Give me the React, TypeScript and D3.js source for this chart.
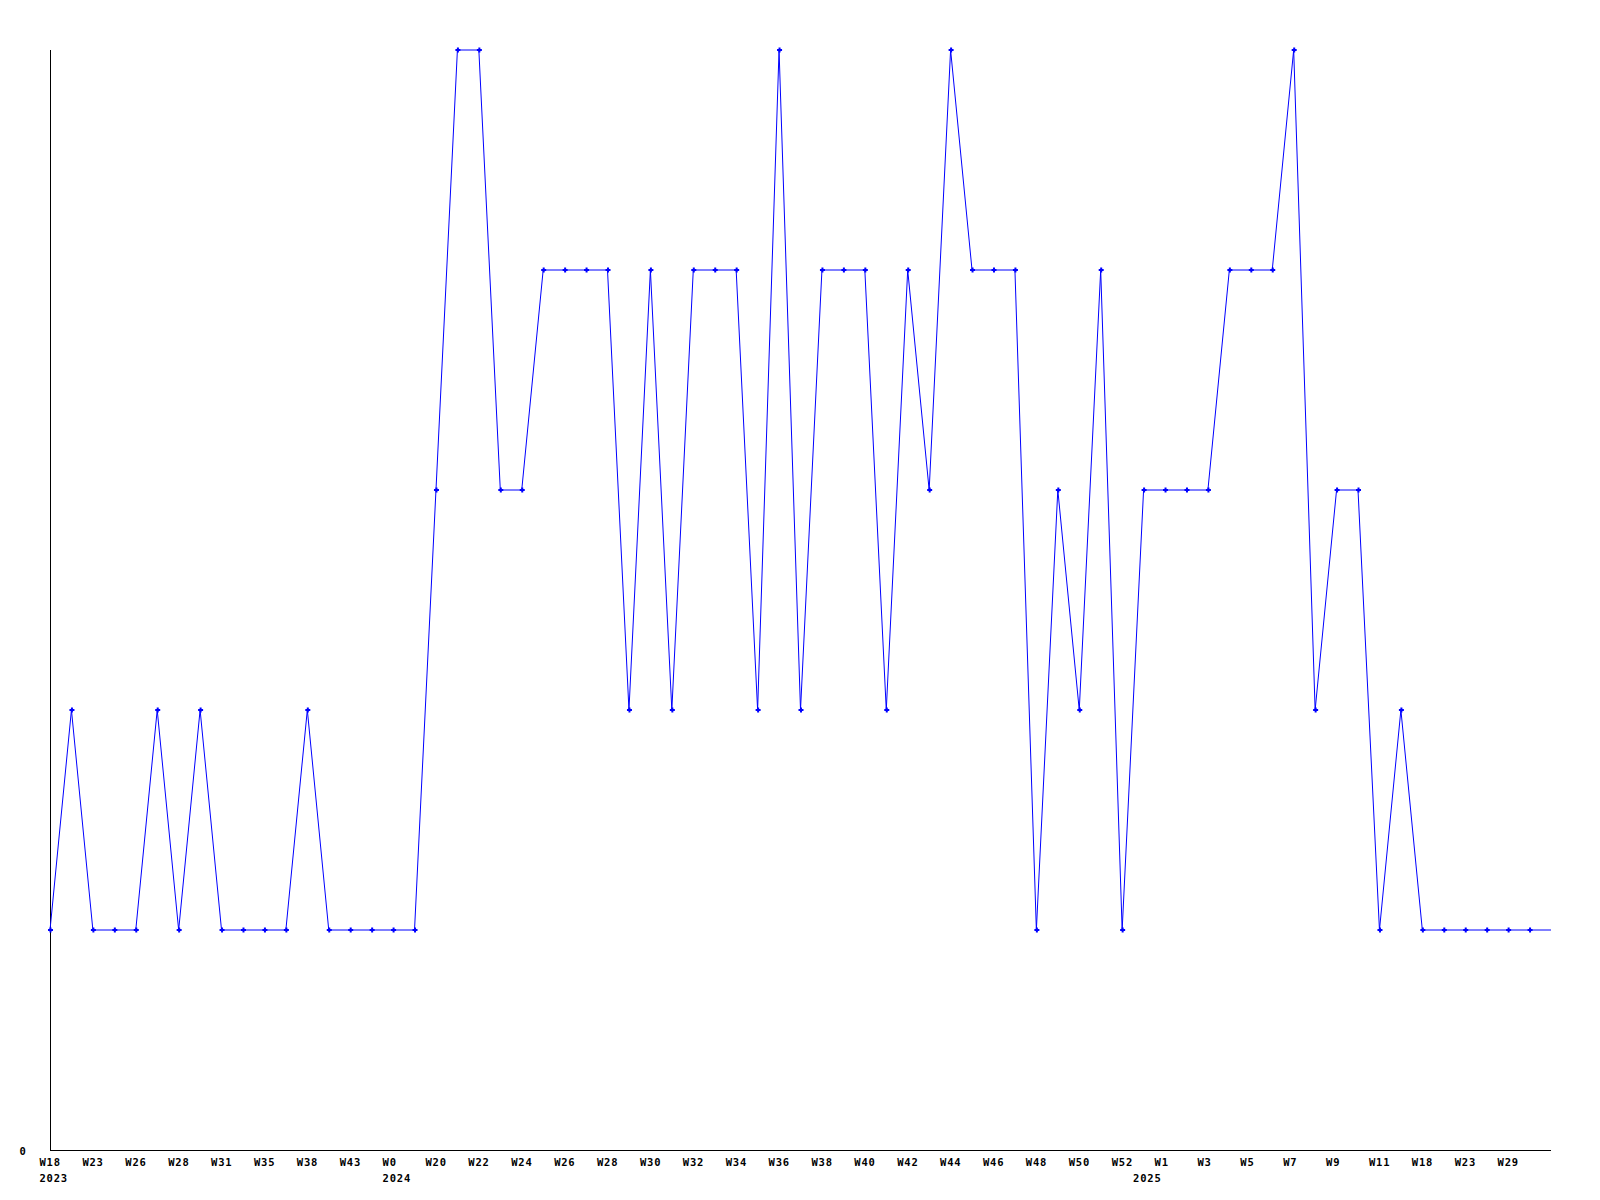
import React from "react";
import * as d3 from "d3";

const values: number[] = [
  1, 2, 1, 1, 1, 2, 1, 2, 1, 1, 1, 1, 2, 1, 1, 1, 1, 1, 3, 5,
  5, 3, 3, 4, 4, 4, 4, 2, 4, 2, 4, 4, 4, 2, 5, 2, 4, 4, 4, 2,
  4, 3, 5, 4, 4, 4, 1, 3, 2, 4, 1, 3, 3, 3, 3, 4, 4, 4, 5, 2,
  3, 3, 1, 2, 1, 1, 1, 1, 1, 1, 1,
];

// labels shown at every second point
const tickLabels: string[] = [
  "W18", "W23", "W26", "W28", "W31", "W35", "W38", "W43", "W0", "W20",
  "W22", "W24", "W26", "W28", "W30", "W32", "W34", "W36", "W38", "W40",
  "W42", "W44", "W46", "W48", "W50", "W52", "W1", "W3", "W5", "W7",
  "W9", "W11", "W18", "W23", "W29",
];

const yearLabels: string[] = ["2023", "2024", "2025"];
const yearIndex: number[] = [0, 16, 51];

const yTickLabels: string[] = ["0"];

const W = 1600;
const H = 1200;
const left = 50;
const right = 1551;
const top = 50;
const bottom = 1150;

const font = "'DejaVu Sans Mono', 'Liberation Mono', monospace";

export default function App() {
  const x = d3.scaleLinear().domain([0, values.length - 1]).range([left, right]);
  const y = d3.scaleLinear().domain([0, 5]).range([bottom, top]);
  const line = d3
    .line<number>()
    .x((_, i) => x(i))
    .y((d) => y(d));
  const marker = "M-0.5,-2.5h2v1.5h1.5v2h-1.5v1.5h-2v-1.5h-1.5v-2h1.5z";
  return (
    <svg
      width={W}
      height={H}
      style={{ position: "absolute", left: 0, top: 0, background: "#fff" }}
    >
      <rect x={0} y={0} width={W} height={H} fill="#fff" />
      <line x1={left + 0.5} y1={top} x2={left + 0.5} y2={bottom + 0.5} stroke="#000" strokeWidth={1} />
      <line x1={left} y1={bottom + 0.5} x2={right} y2={bottom + 0.5} stroke="#000" strokeWidth={1} />
      <path d={line(values) ?? ""} fill="none" stroke="#0000ff" strokeWidth={1} />
      {values.slice(0, values.length - 1).map((v, i) => (
        <path key={i} d={marker} transform={`translate(${x(i)},${y(v)})`} fill="#0000ff" />
      ))}
      {tickLabels.map((t, i) => (
        <text
          key={i}
          x={x(i * 2) - 10.5}
          y={1166}
          fontFamily={font}
          fontWeight="bold"
          fontSize={10.5}
          letterSpacing={0.8}
          fill="#000"
        >
          {t}
        </text>
      ))}
      {yearLabels.map((t, i) => (
        <text
          key={t}
          x={x(yearIndex[i]) - 10.5}
          y={1181.5}
          fontFamily={font}
          fontWeight="bold"
          fontSize={10.5}
          letterSpacing={0.8}
          fill="#000"
        >
          {t}
        </text>
      ))}
      {yTickLabels.map((t) => (
        <text
          key={t}
          x={19.5}
          y={1154.5}
          fontFamily={font}
          fontWeight="bold"
          fontSize={10.5}
          fill="#000"
        >
          {t}
        </text>
      ))}
    </svg>
  );
}
